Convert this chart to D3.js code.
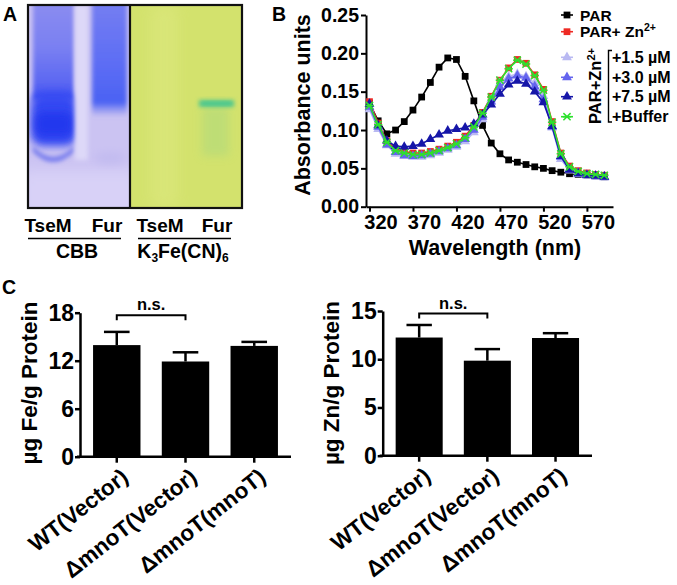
<!DOCTYPE html>
<html>
<head>
<meta charset="utf-8">
<script src="https://cdn.jsdelivr.net/npm/d3@7"></script>
<style>
  body { margin: 0; background: #fff; }
  svg text { font-family: "Liberation Sans", Arial, sans-serif; font-weight: bold; fill: #000; }
</style>
</head>
<body>
<svg id="fig" width="677" height="585"></svg>
<script>
// ---- panel B data (absorbance spectra) ----
const wavelength = [320,330,340,350,360,370,380,390,400,410,420,430,440,450,460,470,480,490,500,510,520,530,540,550,560,570,580,590];
const par    = [0.135,0.112,0.095,0.100,0.111,0.126,0.143,0.162,0.182,0.194,0.192,0.170,0.138,0.106,0.083,0.069,0.061,0.058,0.055,0.052,0.050,0.047,0.045,0.043,0.042,0.041,0.040,0.039];
const parZn  = [0.137,0.109,0.086,0.075,0.072,0.070,0.070,0.072,0.075,0.079,0.084,0.092,0.106,0.123,0.144,0.165,0.181,0.192,0.187,0.172,0.153,0.111,0.070,0.053,0.047,0.044,0.042,0.041];
const zn15   = [0.127,0.101,0.080,0.069,0.066,0.065,0.065,0.067,0.070,0.074,0.078,0.085,0.097,0.114,0.140,0.161,0.170,0.173,0.170,0.161,0.144,0.103,0.062,0.047,0.042,0.040,0.039,0.038];
const zn30   = [0.130,0.104,0.081,0.071,0.067,0.066,0.067,0.069,0.072,0.076,0.080,0.088,0.100,0.117,0.137,0.156,0.167,0.171,0.168,0.157,0.140,0.104,0.065,0.049,0.044,0.041,0.040,0.039];
const zn75   = [0.134,0.106,0.086,0.079,0.078,0.079,0.082,0.088,0.094,0.099,0.101,0.103,0.108,0.120,0.133,0.147,0.159,0.164,0.160,0.150,0.136,0.105,0.066,0.048,0.043,0.041,0.040,0.039];
const buffer = [0.132,0.107,0.084,0.073,0.070,0.068,0.068,0.070,0.073,0.077,0.082,0.090,0.104,0.122,0.143,0.165,0.180,0.191,0.186,0.171,0.152,0.110,0.069,0.052,0.046,0.043,0.042,0.041];
const absTicks = [0, 0.05, 0.10, 0.15, 0.20, 0.25];
const waveTicks = [320, 370, 420, 470, 520, 570];

// ---- panel C data (metal content) ----
const strains = ["WT(Vector)", "\u0394mnoT(Vector)", "\u0394mnoT(mnoT)"];
const feMean = [13.95, 11.9, 13.85];
const feErr  = [1.65, 1.15, 0.5];
const znMean = [12.25, 9.85, 12.2];
const znErr  = [1.3, 1.2, 0.5];
const feTicks = [0, 6, 12, 18];
const znTicks = [0, 5, 10, 15];

const svg = d3.select("#fig");
const defs = svg.append("defs");

function blur(id, sd) {
  defs.append("filter").attr("id", id).attr("x", "-50%").attr("y", "-50%").attr("width", "200%").attr("height", "200%")
    .append("feGaussianBlur").attr("stdDeviation", sd);
}

function vgrad(id, stops) {
  const lg = defs.append("linearGradient").attr("id", id).attr("x1", 0).attr("y1", 0).attr("x2", 0).attr("y2", 1);
  stops.forEach(function(s) {
    lg.append("stop").attr("offset", s[0]).attr("stop-color", s[1]).attr("stop-opacity", s[2] === undefined ? 1 : s[2]);
  });
}

// ================= panel A : gel picture =================
function drawGel() {
  const g = svg.append("g");
  blur("blur7", 7);
  blur("blur4", 4);
  blur("blur2", 2);
  defs.append("clipPath").attr("id", "clipL").append("rect").attr("x", 28).attr("y", 5).attr("width", 102).attr("height", 203);
  defs.append("clipPath").attr("id", "clipR").append("rect").attr("x", 130).attr("y", 5).attr("width", 112).attr("height", 203);
  vgrad("lane1", [["0%", "#8e8ef0"], ["50%", "#7a80f2"], ["85%", "#5a66f2"], ["100%", "#3e50f2"]]);
  vgrad("lane2", [["0%", "#7880f2"], ["60%", "#5b6cf4"], ["88%", "#4b62f3"], ["100%", "#6a78f3", 0]]);

  // CBB stained half
  const L = g.append("g").attr("clip-path", "url(#clipL)");
  L.append("rect").attr("x", 28).attr("y", 5).attr("width", 102).attr("height", 203).attr("fill", "#cbc3f2");
  L.append("rect").attr("x", 20).attr("y", 170).attr("width", 120).attr("height", 50).attr("fill", "#d8d1f7").attr("filter", "url(#blur7)");
  L.append("rect").attr("x", 33).attr("y", -5).attr("width", 41).attr("height", 105).attr("fill", "url(#lane1)").attr("filter", "url(#blur2)");
  L.append("rect").attr("x", 31).attr("y", 92).attr("width", 46).attr("height", 54).attr("rx", 12).attr("fill", "#3648f2").attr("filter", "url(#blur4)");
  L.append("rect").attr("x", 35).attr("y", 112).attr("width", 38).attr("height", 24).attr("rx", 8).attr("fill", "#2038ee").attr("filter", "url(#blur4)");
  L.append("path").attr("d", "M33,146 Q53,168 74,146 L74,152 Q53,172 33,152 Z").attr("fill", "#767cee").attr("filter", "url(#blur2)");
  L.append("rect").attr("x", 75).attr("y", 5).attr("width", 13).attr("height", 155).attr("fill", "#ddd8f8").attr("filter", "url(#blur2)");
  L.append("rect").attr("x", 92).attr("y", -5).attr("width", 35).attr("height", 122).attr("fill", "url(#lane2)").attr("filter", "url(#blur2)");
  L.append("ellipse").attr("cx", 110).attr("cy", 158).attr("rx", 16).attr("ry", 6).attr("fill", "#c2bbf0").attr("filter", "url(#blur4)");

  // ferricyanide stained half
  const R = g.append("g").attr("clip-path", "url(#clipR)");
  R.append("rect").attr("x", 130).attr("y", 5).attr("width", 112).attr("height", 203).attr("fill", "#d3e26d");
  R.append("rect").attr("x", 150).attr("y", 5).attr("width", 28).attr("height", 203).attr("fill", "#dde87f").attr("opacity", 0.6).attr("filter", "url(#blur7)");
  R.append("rect").attr("x", 202).attr("y", 106).attr("width", 27).attr("height", 50).attr("fill", "#b9dc78").attr("opacity", 0.8).attr("filter", "url(#blur4)");
  R.append("rect").attr("x", 199).attr("y", 100).attr("width", 35).attr("height", 7).attr("fill", "#58c98a").attr("filter", "url(#blur2)");
  R.append("rect").attr("x", 202).attr("y", 102).attr("width", 29).attr("height", 3).attr("fill", "#48c890").attr("filter", "url(#blur2)");

  g.append("rect").attr("x", 28).attr("y", 5).attr("width", 214).attr("height", 203)
    .attr("fill", "none").attr("stroke", "#111").attr("stroke-width", 2.2);
  g.append("line").attr("x1", 130).attr("x2", 130).attr("y1", 5).attr("y2", 208).attr("stroke", "#111").attr("stroke-width", 2.2);

  const lanes = [["TseM", 48], ["Fur", 107], ["TseM", 160], ["Fur", 217]];
  lanes.forEach(function(d) {
    g.append("text").attr("x", d[1]).attr("y", 232).attr("text-anchor", "middle").style("font-size", "19px").text(d[0]);
  });
  g.append("line").attr("x1", 28).attr("x2", 121).attr("y1", 238.5).attr("y2", 238.5).attr("stroke", "#000").attr("stroke-width", 1.6);
  g.append("line").attr("x1", 138).attr("x2", 231).attr("y1", 238.5).attr("y2", 238.5).attr("stroke", "#000").attr("stroke-width", 1.6);
  g.append("text").attr("x", 77).attr("y", 258).attr("text-anchor", "middle").style("font-size", "19.5px").text("CBB");
  const k = g.append("text").attr("x", 183).attr("y", 258).attr("text-anchor", "middle").style("font-size", "19.5px");
  k.append("tspan").text("K");
  k.append("tspan").attr("dy", 4).style("font-size", "12px").text("3");
  k.append("tspan").attr("dy", -4).text("Fe(CN)");
  k.append("tspan").attr("dy", 4).style("font-size", "12px").text("6");
}

// ================= panel B : spectra =================
function drawSpectra() {
  const g = svg.append("g");
  const x = d3.scaleLinear().domain([316, 600]).range([366, 613]);
  const y = d3.scaleLinear().domain([0, 0.25]).range([206.7, 15]);

  const xAxis = g.append("g").attr("transform", "translate(0,206.7)")
    .call(d3.axisBottom(x).tickValues(waveTicks).tickSize(5).tickSizeOuter(0).tickPadding(3));
  xAxis.selectAll("text").attr("x", 11).style("font-size", "20px");
  const yAxis = g.append("g").attr("transform", "translate(366,0)")
    .call(d3.axisLeft(y).tickValues(absTicks).tickFormat(d3.format(".2f")).tickSize(5).tickSizeOuter(0).tickPadding(2));
  yAxis.selectAll("text").style("font-size", "19.5px");
  g.selectAll(".domain, .tick line").attr("stroke", "#000").attr("stroke-width", 2);

  g.append("text").attr("transform", "translate(310,105) rotate(-90)").attr("text-anchor", "middle")
    .style("font-size", "21.5px").text("Absorbance units");
  g.append("text").attr("x", 495).attr("y", 255).attr("text-anchor", "middle")
    .style("font-size", "21.5px").text("Wavelength (nm)");

  const star = "M-3.6,-3.6L3.6,3.6M-3.6,3.6L3.6,-3.6M-4.2,0L4.2,0";
  const series = [
    { values: par,    color: "#000000", marker: d3.symbol(d3.symbolSquare, 46)() },
    { values: parZn,  color: "#ee2a24", marker: d3.symbol(d3.symbolSquare, 46)() },
    { values: zn15,   color: "#b9b9f2", marker: d3.symbol(d3.symbolTriangle, 42)() },
    { values: zn30,   color: "#6464ee", marker: d3.symbol(d3.symbolTriangle, 42)() },
    { values: zn75,   color: "#1616a8", marker: d3.symbol(d3.symbolTriangle, 42)() },
    { values: buffer, color: "#2ee02e", marker: star, stroke: true }
  ];
  const line = d3.line().x(function(d, i) { return x(wavelength[i]); }).y(function(d) { return y(d); });

  series.forEach(function(s) {
    const sg = g.append("g");
    sg.append("path").attr("d", line(s.values)).attr("fill", "none").attr("stroke", s.color).attr("stroke-width", 1.6);
    sg.selectAll("path.m").data(s.values).enter().append("path").attr("class", "m")
      .attr("transform", function(d, i) { return "translate(" + x(wavelength[i]) + "," + y(d) + ")"; })
      .attr("d", s.marker)
      .attr("fill", s.stroke ? "none" : s.color)
      .attr("stroke", s.stroke ? s.color : "none")
      .attr("stroke-width", 1.5);
  });

  // legend
  const lgY = [15, 31.7, 57.3, 77.3, 96.7, 116.7];
  series.forEach(function(s, i) {
    g.append("line").attr("x1", 561).attr("x2", 573).attr("y1", lgY[i]).attr("y2", lgY[i]).attr("stroke", s.color).attr("stroke-width", 1.6);
    g.append("path").attr("transform", "translate(567," + lgY[i] + ")").attr("d", s.marker)
      .attr("fill", s.stroke ? "none" : s.color).attr("stroke", s.stroke ? s.color : "none").attr("stroke-width", 1.5);
  });
  g.append("text").attr("x", 580).attr("y", 20.5).style("font-size", "15.5px").text("PAR");
  const t2 = g.append("text").attr("x", 580).attr("y", 37).style("font-size", "15.5px");
  t2.append("tspan").text("PAR+ Zn");
  t2.append("tspan").attr("dy", -6).style("font-size", "10.5px").text("2+");
  const rt = g.append("text").attr("transform", "translate(601,86) rotate(-90)").attr("text-anchor", "middle").style("font-size", "16.5px");
  rt.append("tspan").text("PAR+Zn");
  rt.append("tspan").attr("dy", -6).style("font-size", "11px").text("2+");
  g.append("path").attr("d", "M612,50.5H608.5V122H612").attr("fill", "none").attr("stroke", "#000").attr("stroke-width", 1.4);
  const subs = ["+1.5 \u00b5M", "+3.0 \u00b5M", "+7.5 \u00b5M", "+Buffer"];
  subs.forEach(function(t, i) {
    g.append("text").attr("x", 612).attr("y", lgY[i + 2] + 5.5).style("font-size", "16px").text(t);
  });
}

// ================= panel C : bar charts =================
function drawBars(opt) {
  const g = svg.append("g");
  const x = d3.scaleBand().domain(strains).range([opt.x0, opt.x1]).paddingInner(0.31).paddingOuter(0.19);
  const y = d3.scaleLinear().domain([0, opt.ticks[opt.ticks.length - 1]]).range([opt.y0, opt.y1]);

  g.selectAll("rect.bar").data(opt.mean).enter().append("rect").attr("class", "bar")
    .attr("x", function(d, i) { return x(strains[i]); })
    .attr("width", x.bandwidth())
    .attr("y", function(d) { return y(d); })
    .attr("height", function(d) { return y(0) - y(d); })
    .attr("fill", "#000");

  // upper error bars
  const cap = x.bandwidth() * 0.27;
  opt.mean.forEach(function(m, i) {
    const cx = x(strains[i]) + x.bandwidth() / 2;
    g.append("line").attr("x1", cx).attr("x2", cx).attr("y1", y(m)).attr("y2", y(m + opt.err[i])).attr("stroke", "#000").attr("stroke-width", 2.5);
    g.append("line").attr("x1", cx - cap).attr("x2", cx + cap).attr("y1", y(m + opt.err[i])).attr("y2", y(m + opt.err[i])).attr("stroke", "#000").attr("stroke-width", 2.5);
  });

  const yAxis = g.append("g").attr("transform", "translate(" + opt.x0 + ",0)")
    .call(d3.axisLeft(y).tickValues(opt.ticks).tickSize(5).tickSizeOuter(0).tickPadding(1));
  yAxis.selectAll("text").style("font-size", "23px");
  const xAxis = g.append("g").attr("transform", "translate(0," + opt.y0 + ")")
    .call(d3.axisBottom(x).tickSize(6).tickSizeOuter(0));
  xAxis.selectAll("text").attr("x", 0).attr("y", 0).attr("dy", 0)
    .attr("text-anchor", "end").attr("transform", "translate(13,23) rotate(-38)")
    .style("font-size", "22.5px");
  g.selectAll(".domain, .tick line").attr("stroke", "#000").attr("stroke-width", 2.5);
  xAxis.select(".domain").attr("d", "M" + (opt.x0 - 3) + ",0H" + opt.x1);

  g.append("text").attr("transform", "translate(" + opt.titleX + ",383) rotate(-90)").attr("text-anchor", "middle")
    .style("font-size", "22.5px").text(opt.title);

  // n.s. bracket between first two groups
  const a = x(strains[0]) + x.bandwidth() / 2;
  const b = x(strains[1]) + x.bandwidth() / 2;
  const by = opt.y1 + 2.5;
  g.append("path").attr("d", "M" + a + "," + (by + 5) + "V" + by + "H" + b + "V" + (by + 5))
    .attr("fill", "none").attr("stroke", "#000").attr("stroke-width", 2);
  g.append("text").attr("x", (a + b) / 2).attr("y", by - 5).attr("text-anchor", "middle").style("font-size", "16.5px").text("n.s.");
}

drawGel();
drawSpectra();
drawBars({ mean: feMean, err: feErr, ticks: feTicks, x0: 80, x1: 291, y0: 456.7, y1: 312.7, title: "\u00b5g Fe/g Protein", titleX: 37 });
drawBars({ mean: znMean, err: znErr, ticks: znTicks, x0: 382.7, x1: 592, y0: 455.7, y1: 311, title: "\u00b5g Zn/g Protein", titleX: 339 });

// panel letters
[["A", 3, 21], ["B", 272, 21], ["C", 2, 294]].forEach(function(d) {
  svg.append("text").attr("x", d[1]).attr("y", d[2]).style("font-size", "19.5px").text(d[0]);
});
</script>
</body>
</html>
